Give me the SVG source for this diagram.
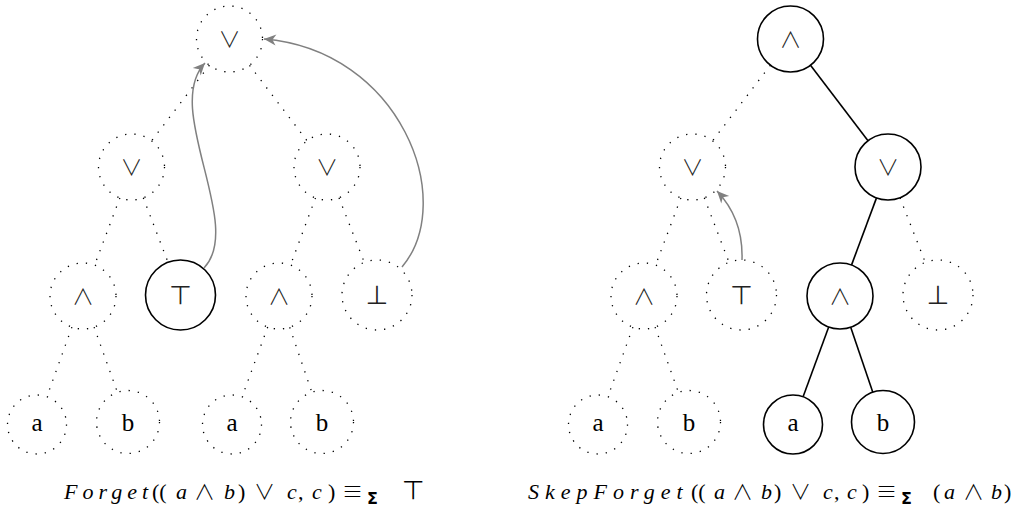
<svg xmlns="http://www.w3.org/2000/svg" width="1023" height="522" viewBox="0 0 1023 522">
  <style>
    .dot { fill: none; stroke: #000; stroke-width: 1.3; stroke-dasharray: 1.3 8; }
    .sol { fill: none; stroke: #000; stroke-width: 1.6; }
    .edot { fill: none; stroke: #000; stroke-width: 1.3; stroke-dasharray: 1.3 8; }
    .esol { fill: none; stroke: #000; stroke-width: 1.6; }
    .arr { fill: none; stroke: #808080; stroke-width: 1.5; marker-end: url(#ah); }
    .op { font-family: "Noto Sans CJK JP", "DejaVu Sans", sans-serif; font-size: 22px; font-weight: 300; text-anchor: middle; fill: #222; }
    .tb { font-family: "DejaVu Sans", sans-serif; font-size: 26px; text-anchor: middle; fill: #222; }
    .var { font-family: "Liberation Serif", serif; font-size: 25px; text-anchor: middle; fill: #000; }
    .cap { font-family: "Liberation Serif", serif; font-size: 22px; fill: #000; }
    .it { font-style: italic; }
    .word { font-style: italic; letter-spacing: 5px; }
    .sym { font-family: "Noto Sans CJK JP", "DejaVu Sans", sans-serif; font-size: 21px; font-weight: 300; }
    .tsym { font-family: "DejaVu Sans", sans-serif; font-size: 26px; }
    .sub { font-family: "DejaVu Sans", sans-serif; font-size: 16px; font-weight: bold; }
  </style>
  <defs>
    <marker id="ah" markerUnits="userSpaceOnUse" viewBox="-13 -7 14 14" refX="0" refY="0" markerWidth="14" markerHeight="14" orient="auto" overflow="visible">
      <path d="M0,0 L-12,-5.5 L-8.5,0 L-12,5.5 Z" fill="#808080"/>
    </marker>
  </defs>

  <!-- connectors -->
  <g id="connectors">
    <!-- left tree edges -->
    <line class="edot" x1="209.4" y1="65.2" x2="151.6" y2="140.8"/>
    <line class="edot" x1="249.5" y1="65.3" x2="307" y2="140.7"/>
    <line class="edot" x1="119.9" y1="197.9" x2="94.6" y2="265.1"/>
    <line class="edot" x1="143.3" y1="197.8" x2="168" y2="262.3"/>
    <line class="edot" x1="315.5" y1="197.9" x2="290.5" y2="265.1"/>
    <line class="edot" x1="339" y1="197.8" x2="364.3" y2="262.4"/>
    <line class="edot" x1="71.9" y1="327.1" x2="46.9" y2="396.7"/>
    <line class="edot" x1="94.1" y1="327.1" x2="117.4" y2="392.3"/>
    <line class="edot" x1="267.7" y1="327" x2="242.1" y2="396.8"/>
    <line class="edot" x1="289.7" y1="327.3" x2="311.8" y2="392.2"/>
    <!-- right tree edges -->
    <g transform="translate(561,0)">
      <line class="edot" x1="209.4" y1="65.2" x2="151.6" y2="140.8"/>
      <line class="esol" x1="249.5" y1="65.3" x2="307" y2="140.7"/>
      <line class="edot" x1="119.9" y1="197.9" x2="94.6" y2="265.1"/>
      <line class="edot" x1="143.3" y1="197.8" x2="168" y2="262.3"/>
      <line class="esol" x1="315.5" y1="197.9" x2="290.5" y2="265.1"/>
      <line class="edot" x1="339" y1="197.8" x2="364.3" y2="262.4"/>
      <line class="edot" x1="71.9" y1="327.1" x2="46.9" y2="396.7"/>
      <line class="edot" x1="94.1" y1="327.1" x2="117.4" y2="392.3"/>
      <line class="esol" x1="267.7" y1="327" x2="242.1" y2="396.8"/>
      <line class="esol" x1="289.7" y1="327.3" x2="311.8" y2="392.2"/>
    </g>
    <!-- substitution arrows -->
    <path class="arr" d="M204,268 C245,225 162,108 205,63"/>
    <path class="arr" d="M402,267 C458,200 400,50 264,39"/>
    <path class="arr" d="M742,260 C743,232 735,210 717,191"/>
  </g>

  <!-- left tree -->
  <g id="L-or-root"><circle class="dot" cx="229.5" cy="39" r="33"/><text class="op" x="229.5" y="47">∨</text></g>
  <g id="L-or-left"><circle class="dot" cx="131.5" cy="167" r="33"/><text class="op" x="131.5" y="175">∨</text></g>
  <g id="L-or-right"><circle class="dot" cx="327" cy="167" r="33"/><text class="op" x="327" y="175">∨</text></g>
  <g id="L-and-1"><circle class="dot" cx="83" cy="296" r="33"/><text class="op" x="83" y="304">∧</text></g>
  <g id="L-top"><circle class="sol" cx="180.5" cy="295" r="35"/><text class="tb" x="180.5" y="304">⊤</text></g>
  <g id="L-and-2"><circle class="dot" cx="279" cy="296" r="33"/><text class="op" x="279" y="304">∧</text></g>
  <g id="L-bot"><circle class="dot" cx="377" cy="295" r="35"/><text class="tb" x="377" y="304">⊥</text></g>
  <g id="L-a-1"><circle class="dot" cx="37" cy="424.5" r="29.5"/><text class="var" x="37" y="430.5">a</text></g>
  <g id="L-b-1"><circle class="dot" cx="128" cy="422" r="31.5"/><text class="var" x="128" y="430.5">b</text></g>
  <g id="L-a-2"><circle class="dot" cx="232" cy="424.5" r="29.5"/><text class="var" x="232" y="430.5">a</text></g>
  <g id="L-b-2"><circle class="dot" cx="322" cy="422" r="31.5"/><text class="var" x="322" y="430.5">b</text></g>

  <!-- right tree -->
  <g transform="translate(561,0)">
    <g id="R-and-root"><circle class="sol" cx="229.5" cy="39" r="33"/><text class="op" x="229.5" y="47">∧</text></g>
    <g id="R-or-left"><circle class="dot" cx="131.5" cy="167" r="33"/><text class="op" x="131.5" y="175">∨</text></g>
    <g id="R-or-right"><circle class="sol" cx="327" cy="167" r="33"/><text class="op" x="327" y="175">∨</text></g>
    <g id="R-and-1"><circle class="dot" cx="83" cy="296" r="33"/><text class="op" x="83" y="304">∧</text></g>
    <g id="R-top"><circle class="dot" cx="180.5" cy="295" r="35"/><text class="tb" x="180.5" y="304">⊤</text></g>
    <g id="R-and-2"><circle class="sol" cx="279" cy="296" r="33"/><text class="op" x="279" y="304">∧</text></g>
    <g id="R-bot"><circle class="dot" cx="377" cy="295" r="35"/><text class="tb" x="377" y="304">⊥</text></g>
    <g id="R-a-1"><circle class="dot" cx="37" cy="424.5" r="29.5"/><text class="var" x="37" y="430.5">a</text></g>
    <g id="R-b-1"><circle class="dot" cx="128" cy="422" r="31.5"/><text class="var" x="128" y="430.5">b</text></g>
    <g id="R-a-2"><circle class="sol" cx="232" cy="424.5" r="29.5"/><text class="var" x="232" y="430.5">a</text></g>
    <g id="R-b-2"><circle class="sol" cx="322" cy="422" r="31.5"/><text class="var" x="322" y="430.5">b</text></g>
  </g>

  <!-- captions -->
  <g id="caption-left">
    <text class="cap" y="499"><tspan x="64" class="word">Forget</tspan><tspan x="152">((</tspan><tspan x="176" class="it">a</tspan><tspan x="194" class="sym">∧</tspan><tspan x="224" class="it">b</tspan><tspan x="238">)</tspan><tspan x="254" class="sym">∨</tspan><tspan x="287" class="it">c</tspan><tspan x="298">,</tspan><tspan x="312" class="it">c</tspan><tspan x="328">)</tspan><tspan x="342" class="sym">≡</tspan><tspan x="367" dy="5" class="sub">Σ</tspan><tspan x="402" dy="-5" class="tsym">⊤</tspan></text>
  </g>
  <g id="caption-right">
    <text class="cap" y="499"><tspan x="528" class="word" style="letter-spacing:6px">SkepForget</tspan><tspan x="691">((</tspan><tspan x="714" class="it">a</tspan><tspan x="732" class="sym">∧</tspan><tspan x="761" class="it">b</tspan><tspan x="774">)</tspan><tspan x="790" class="sym">∨</tspan><tspan x="823" class="it">c</tspan><tspan x="834">,</tspan><tspan x="847" class="it">c</tspan><tspan x="862">)</tspan><tspan x="876" class="sym">≡</tspan><tspan x="901" dy="5" class="sub">Σ</tspan><tspan x="933" dy="-5">(</tspan><tspan x="944" class="it">a</tspan><tspan x="963" class="sym">∧</tspan><tspan x="991" class="it">b</tspan><tspan x="1004">)</tspan></text>
  </g>
</svg>
